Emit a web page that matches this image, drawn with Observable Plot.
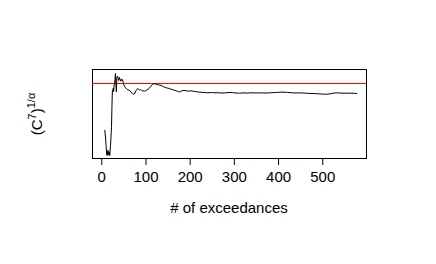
<!DOCTYPE html>
<html><head><meta charset="utf-8">
<script src="https://cdn.jsdelivr.net/npm/d3@7"></script>
<script src="https://cdn.jsdelivr.net/npm/@observablehq/plot@0.6"></script>
<style>body{margin:0;background:#fff;} svg{display:block;}</style>
</head><body><div id="chart"></div>
<script>
// number of exceedances (x) and the estimate (y, arbitrary units; reference line at 1)
const exceedances = [7, 9, 11, 12, 14, 15, 17, 18, 20, 22, 23, 24, 25, 26, 27, 28, 29, 30, 31, 32, 33, 34, 36, 37, 38, 40, 41, 43, 44, 46, 47, 49, 51, 53, 55, 58, 61, 64, 67, 69, 71, 73, 75, 76, 78, 81, 83, 85, 88, 90, 93, 96, 99, 103, 107, 111, 115, 118, 120, 123, 126, 130, 134, 138, 141, 145, 149, 153, 157, 161, 165, 169, 173, 177, 181, 186, 191, 196, 201, 207, 213, 219, 226, 233, 240, 248, 256, 264, 272, 280, 288, 296, 304, 312, 320, 330, 340, 350, 360, 370, 380, 390, 400, 410, 420, 430, 440, 450, 460, 470, 480, 490, 500, 508, 516, 524, 532, 540, 548, 556, 564, 571, 577];
const estimates = [0.39, 0.25, 0.08, 0.06, 0.13, 0.07, 0.11, 0.06, 0.21, 0.43, 0.70, 0.91, 0.89, 0.94, 0.90, 0.99, 1.0, 1.07, 1.13, 0.98, 0.89, 1.08, 1.095, 1.06, 1.04, 1.08, 1.05, 1.03, 1.06, 1.04, 1.05, 1.0, 0.97, 0.95, 0.94, 0.92, 0.915, 0.905, 0.88, 0.875, 0.865, 0.86, 0.875, 0.89, 0.91, 0.935, 0.925, 0.915, 0.92, 0.91, 0.905, 0.9, 0.905, 0.92, 0.935, 0.965, 0.99, 1.0, 0.995, 0.99, 0.985, 0.98, 0.975, 0.965, 0.955, 0.945, 0.94, 0.935, 0.925, 0.92, 0.91, 0.905, 0.895, 0.89, 0.905, 0.91, 0.905, 0.9, 0.905, 0.9, 0.893, 0.89, 0.885, 0.882, 0.879, 0.883, 0.878, 0.88, 0.876, 0.879, 0.883, 0.881, 0.876, 0.874, 0.878, 0.876, 0.879, 0.877, 0.878, 0.876, 0.878, 0.882, 0.886, 0.888, 0.884, 0.879, 0.877, 0.878, 0.874, 0.871, 0.869, 0.866, 0.862, 0.86, 0.865, 0.874, 0.878, 0.876, 0.874, 0.873, 0.875, 0.872, 0.87];
const referenceValue = [1.0];
const xTicks = [0, 100, 200, 300, 400, 500];
const xLabel = "# of exceedances";

const data = exceedances.map((x, i) => ({x, y: estimates[i]}));
const font = "'Liberation Sans', Arial, Helvetica, sans-serif";

const plot = Plot.plot({
  width: 436, height: 264,
  marginLeft: 92, marginRight: 70, marginTop: 69, marginBottom: 106,
  style: {fontFamily: font, fontSize: "15px", background: "#fff", color: "black"},
  x: {domain: [-21, 599], label: null},
  y: {domain: [0.022, 1.183], axis: null},
  marks: [
    Plot.frame({stroke: "black", strokeWidth: 1}),
    Plot.axisX(xTicks, {tickSize: 7, tickPadding: 6, fontSize: 15, label: null, stroke: "black"}),
    Plot.ruleY(referenceValue, {stroke: "red", strokeWidth: 1}),
    Plot.line(data, {x: "x", y: "y", stroke: "black", strokeWidth: 1})
  ]
});

const svg = d3.select(plot);
svg.append("text")
  .attr("x", (92 + 366) / 2).attr("y", 213)
  .attr("text-anchor", "middle")
  .attr("font-family", font).attr("font-size", 15).attr("fill", "black")
  .text(xLabel);

const yl = svg.append("text")
  .attr("transform", "translate(42,114) rotate(-90)")
  .attr("text-anchor", "middle")
  .attr("font-family", font).attr("font-size", 15).attr("fill", "black");
yl.append("tspan").text("(C");
yl.append("tspan").attr("font-size", 11).attr("dy", -6).text("7");
yl.append("tspan").attr("dy", 6).text(")");
yl.append("tspan").attr("font-size", 11).attr("dy", -7).text("1/α");

document.getElementById("chart").appendChild(plot);
</script>
</body></html>
